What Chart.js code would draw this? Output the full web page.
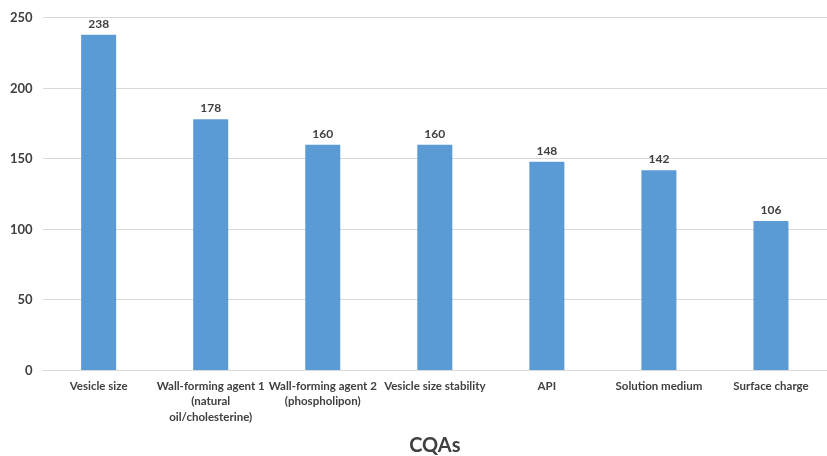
<!DOCTYPE html>
<html>
<head>
<meta charset="utf-8">
<script src="https://cdn.jsdelivr.net/npm/chart.js@4.4.1/dist/chart.umd.min.js"></script>
<style>
  html, body { margin: 0; padding: 0; background: #ffffff; }
  #wrap { width: 827px; height: 456px; }
</style>
</head>
<body>
<div id="wrap"><canvas id="c" width="827" height="456"></canvas></div>
<script>
// Critical quality attributes and their scores
const categories = [
  'Vesicle size',
  ['Wall-forming agent 1', '(natural', 'oil/cholesterine)'],
  ['Wall-forming agent 2', '(phospholipon)'],
  'Vesicle size stability',
  'API',
  'Solution medium',
  'Surface charge'
];
const scores = [238, 178, 160, 160, 148, 142, 106];
const yTicks = [0, 50, 100, 150, 200, 250];

const FONT = 'Lato, "Open Sans", "Liberation Sans", sans-serif';
const TEXT = '#404040';

// Writes each bar's value just above it
const valueLabels = {
  id: 'valueLabels',
  afterDatasetsDraw(chart) {
    const ctx = chart.ctx;
    const meta = chart.getDatasetMeta(0);
    ctx.save();
    ctx.font = 'bold 12px ' + FONT;
    ctx.fillStyle = TEXT;
    ctx.textAlign = 'center';
    ctx.textBaseline = 'bottom';
    meta.data.forEach((bar, i) => {
      ctx.fillText(String(chart.data.datasets[0].data[i]), bar.x, bar.y - 5);
    });
    ctx.restore();
  }
};

new Chart(document.getElementById('c'), {
  type: 'bar',
  data: {
    labels: categories,
    datasets: [{
      data: scores,
      backgroundColor: '#5b9bd5',
      borderWidth: 0,
      barPercentage: 1,
      categoryPercentage: 0.3125
    }]
  },
  options: {
    responsive: false,
    animation: false,
    layout: { padding: { top: 0, right: 0, left: 0, bottom: 0 } },
    plugins: {
      legend: { display: false },
      tooltip: { enabled: false }
    },
    scales: {
      x: {
        grid: { display: false, drawTicks: false },
        border: { display: true, color: '#d9d9d9', width: 1 },
        ticks: {
          color: TEXT,
          font: { family: FONT, size: 11.5, weight: 'bold', lineHeight: 1.35 },
          padding: 8,
          maxRotation: 0,
          autoSkip: false
        },
        title: {
          display: true,
          text: 'CQAs',
          color: TEXT,
          font: { family: FONT, size: 20, weight: 'bold', lineHeight: 1 },
          padding: { top: 3, bottom: 0 }
        }
      },
      y: {
        min: 0,
        max: 250,
        afterBuildTicks(scale) { scale.ticks = yTicks.map(v => ({ value: v })); },
        grid: { color: '#d9d9d9', lineWidth: 1, drawTicks: false },
        border: { display: false },
        ticks: {
          color: TEXT,
          font: { family: FONT, size: 13, weight: 'bold' },
          padding: 10
        }
      }
    }
  },
  plugins: [valueLabels]
});
</script>
</body>
</html>
